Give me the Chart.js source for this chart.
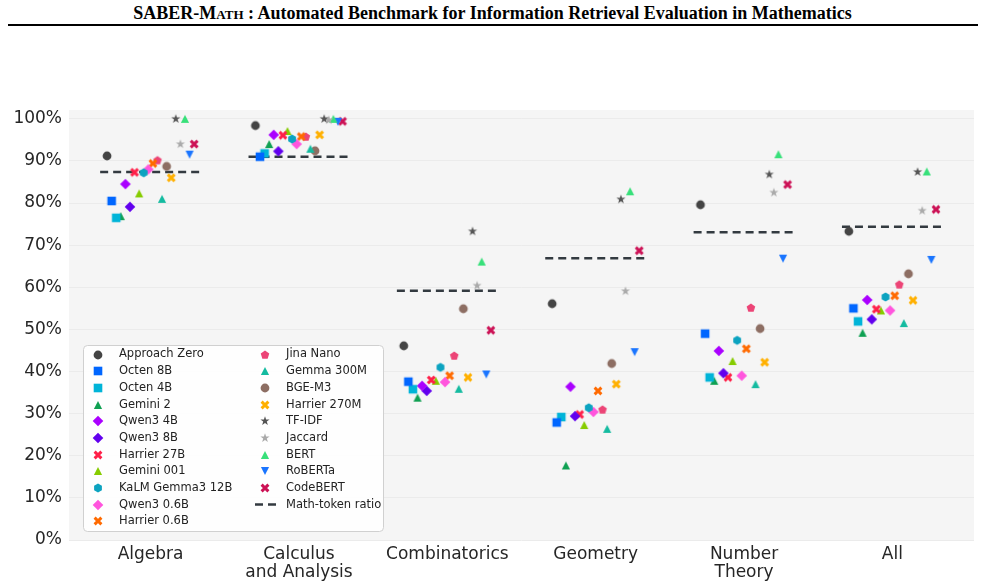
<!DOCTYPE html>
<html>
<head>
<meta charset="utf-8">
<script src="https://cdn.jsdelivr.net/npm/chart.js@4.4.1/dist/chart.umd.min.js"></script>
<style>
  body { margin: 0; background: #fff; width: 985px; height: 586px; position: relative; overflow: hidden; }
  #title { position: absolute; left: 0; top: 3px; width: 985px; text-align: center;
           font: bold 18px "Liberation Serif", "Times New Roman", serif; color: #000; }
  #title .sc { font-variant: small-caps; }
  #rule { position: absolute; left: 8px; top: 24px; width: 970px; height: 2px; background: #000; }
  #c { position: absolute; left: 0; top: 0; }
</style>
</head>
<body>
<div id="title">SABER-<span class="sc">Math</span> : Automated Benchmark for Information Retrieval Evaluation in Mathematics</div>
<div id="rule"></div>
<canvas id="c" width="985" height="586"></canvas>
<script>
// categories and tick labels
const categories = ["Algebra", "Calculus\nand Analysis", "Combinatorics", "Geometry", "Number\nTheory", "All"];
const yTicks = [0, 10, 20, 30, 40, 50, 60, 70, 80, 90, 100];

// scores (%) per category, same order as categories
const approachZero = [91.2, 98.4, 46.1, 56.1, 79.6, 73.3];
const octen8B      = [80.5, 91.0, 37.6, 27.9, 49.0, 55.0];
const octen4B      = [76.5, 91.8, 35.8, 29.2, 38.6, 51.9];
const gemini2      = [76.9, 94.0, 33.8, 17.7, 37.8, 49.2];
const qwen3_4B     = [84.5, 96.2, 36.6, 36.4, 44.9, 57.0];
const qwen3_8B     = [79.1, 92.3, 35.4, 29.4, 39.6, 52.4];
const harrier27B   = [87.3, 96.1, 38.0, 29.8, 38.6, 54.8];
const gemini001    = [82.3, 97.1, 37.8, 27.3, 42.5, 54.5];
const kalmGemma3   = [87.2, 95.2, 41.0, 31.4, 47.4, 57.7];
const qwen3_06B    = [88.0, 94.0, 37.5, 30.4, 39.0, 54.5];
const harrier06B   = [89.4, 95.8, 39.0, 35.4, 45.4, 58.0];
const jinaNano     = [90.1, 95.7, 43.7, 30.9, 55.1, 60.6];
const gemma300M    = [81.0, 92.9, 35.9, 26.4, 37.0, 51.5];
const bgeM3        = [88.7, 92.4, 54.9, 41.9, 50.2, 63.2];
const harrier270M  = [86.0, 96.2, 38.6, 37.0, 42.2, 56.9];
const tfidf        = [100, 100, 73.3, 80.9, 86.8, 87.4];
const jaccard      = [94.0, 99.7, 60.4, 59.1, 82.5, 78.2];
const bert         = [100, 100, 66.1, 82.8, 91.6, 87.5];
const roberta      = [91.5, 99.3, 39.3, 44.6, 66.8, 66.5];
const codebert     = [94.0, 99.4, 49.8, 68.7, 84.4, 78.5];
const mathTokenRatio = [87.4, 91.0, 59.2, 66.9, 73.1, 74.4];

const models = [
  ["Approach Zero", approachZero, "o", "#444444"],
  ["Octen 8B", octen8B, "s", "#0066ff"],
  ["Octen 4B", octen4B, "s", "#00b4d8"],
  ["Gemini 2", gemini2, "^", "#0fa052"],
  ["Qwen3 4B", qwen3_4B, "D", "#aa00ff"],
  ["Qwen3 8B", qwen3_8B, "D", "#6200ee"],
  ["Harrier 27B", harrier27B, "X", "#ff1f48"],
  ["Gemini 001", gemini001, "^", "#86cc00"],
  ["KaLM Gemma3 12B", kalmGemma3, "h", "#0ca3c0"],
  ["Qwen3 0.6B", qwen3_06B, "D", "#ff55dd"],
  ["Harrier 0.6B", harrier06B, "X", "#ff6a00"],
  ["Jina Nano", jinaNano, "p", "#ec4476"],
  ["Gemma 300M", gemma300M, "^", "#14bba0"],
  ["BGE-M3", bgeM3, "o", "#8d6e63"],
  ["Harrier 270M", harrier270M, "X", "#ffb000"],
  ["TF-IDF", tfidf, "*", "#555555"],
  ["Jaccard", jaccard, "*", "#aaaaaa"],
  ["BERT", bert, "^", "#38e07a"],
  ["RoBERTa", roberta, "v", "#1a75ff"],
  ["CodeBERT", codebert, "X", "#cc1155"]
];

function marker(shape, color) {
  const c = document.createElement("canvas");
  c.width = 16; c.height = 16;
  const g = c.getContext("2d");
  g.translate(8, 8);
  g.fillStyle = color;
  g.strokeStyle = color;
  const poly = pts => { g.beginPath(); pts.forEach((p, i) => i ? g.lineTo(p[0], p[1]) : g.moveTo(p[0], p[1])); g.closePath(); g.fill(); };
  const ngon = (n, r, rot) => { const p = []; for (let i = 0; i < n; i++) { const a = rot + i * 2 * Math.PI / n; p.push([r * Math.sin(a), -r * Math.cos(a)]); } poly(p); };
  if (shape === "o") { g.beginPath(); g.arc(0, 0, 4.4, 0, Math.PI * 2); g.fill(); }
  else if (shape === "s") { g.fillRect(-4.3, -4.3, 8.6, 8.6); }
  else if (shape === "D") { poly([[0, -5.3], [5.3, 0], [0, 5.3], [-5.3, 0]]); }
  else if (shape === "^") { poly([[0, -4.1], [4.1, 4.0], [-4.1, 4.0]]); }
  else if (shape === "v") { poly([[0, 4.1], [4.1, -4.0], [-4.1, -4.0]]); }
  else if (shape === "p") { ngon(5, 4.5, 0); }
  else if (shape === "h") { ngon(6, 4.5, 0); }
  else if (shape === "*") {
    const p = [];
    for (let i = 0; i < 10; i++) { const r = i % 2 ? 1.9 : 4.8; const a = i * Math.PI / 5; p.push([r * Math.sin(a), -r * Math.cos(a)]); }
    poly(p);
  } else if (shape === "X") {
    g.lineWidth = 2.9;
    g.beginPath();
    g.moveTo(-3.4, -3.4); g.lineTo(3.4, 3.4);
    g.moveTo(3.4, -3.4); g.lineTo(-3.4, 3.4);
    g.stroke();
  }
  return c;
}

const step = 0.0309;
const datasets = models.map(([name, vals, shape, color], j) => ({
  type: "scatter",
  label: name,
  data: vals.map((v, i) => ({ x: i + (j - 9.5) * step, y: v })),
  pointStyle: marker(shape, color),
  backgroundColor: color,
  borderColor: color,
  order: 1
}));

// dashed reference segments, broken between categories
const ratioPts = [];
mathTokenRatio.forEach((v, i) => {
  ratioPts.push({ x: i - 0.34, y: v }, { x: i + 0.34, y: v }, { x: i + 0.5, y: null });
});
datasets.push({
  type: "line",
  label: "Math-token ratio",
  data: ratioPts,
  borderColor: "#333a40",
  borderWidth: 2.5,
  borderDash: [8, 5],
  pointRadius: 0,
  spanGaps: false,
  fill: false,
  order: 5
});

const plotBg = {
  id: "plotBg",
  beforeDraw(chart) {
    const a = chart.chartArea, ctx = chart.ctx;
    ctx.save();
    ctx.fillStyle = "#f5f5f5";
    ctx.fillRect(a.left, a.top, a.right - a.left, a.bottom - a.top);
    ctx.restore();
  }
};

// two-column legend inside the plot, column by column
const legendBox = {
  id: "legendBox",
  afterDraw(chart) {
    const ctx = chart.ctx;
    const x0 = 83, y0 = 345, w = 300, h = 186;
    ctx.save();
    ctx.fillStyle = "rgba(255,255,255,0.9)";
    ctx.strokeStyle = "#d0d0d0";
    ctx.lineWidth = 1;
    ctx.beginPath();
    ctx.roundRect(x0 + 0.5, y0 + 0.5, w, h, 4);
    ctx.fill();
    ctx.stroke();
    ctx.font = "11.5px 'DejaVu Sans'";
    ctx.fillStyle = "#222";
    ctx.textBaseline = "middle";
    const items = chart.data.datasets;
    items.forEach((ds, k) => {
      const col = k < 11 ? 0 : 1;
      const row = k < 11 ? k : k - 11;
      const mx = col ? 265 : 98;
      const tx = col ? 286 : 119;
      const y = 354.5 + row * 16.68;
      if (ds.type === "line") {
        ctx.strokeStyle = ds.borderColor;
        ctx.lineWidth = 2.5;
        ctx.setLineDash([8, 5]);
        ctx.beginPath();
        ctx.moveTo(255, y); ctx.lineTo(277, y);
        ctx.stroke();
        ctx.setLineDash([]);
      } else {
        const img = ds.pointStyle;
        ctx.drawImage(img, Math.round(mx - img.width / 2), Math.round(y - img.height / 2));
      }
      ctx.fillText(ds.label, tx, y);
    });
    ctx.restore();
  }
};

new Chart(document.getElementById("c"), {
  data: { datasets },
  options: {
    responsive: false,
    animation: false,
    devicePixelRatio: 1,
    layout: { padding: { top: 110, right: 11, left: 0, bottom: 0 } },
    plugins: { legend: { display: false }, tooltip: { enabled: false } },
    scales: {
      x: {
        type: "linear",
        min: -0.55,
        max: 5.55,
        afterBuildTicks: s => { s.ticks = categories.map((c, i) => ({ value: i })); },
        afterFit: s => { s.height = 46; },
        grid: { display: false, drawTicks: false },
        border: { display: false },
        ticks: {
          callback: v => categories[Math.round(v)].split("\n"),
          maxRotation: 0,
          autoSkip: false,
          padding: 6,
          color: "#262626",
          font: { family: "DejaVu Sans", size: 17, lineHeight: 1.05 }
        }
      },
      y: {
        min: 0,
        max: 102.1,
        afterBuildTicks: s => { s.ticks = yTicks.map(v => ({ value: v })); },
        afterFit: s => { s.width = 69; },
        grid: { color: "#ebebeb", lineWidth: 1, drawTicks: false },
        border: { display: false },
        ticks: {
          callback: v => v + "%",
          padding: 7,
          color: "#262626",
          font: { family: "DejaVu Sans", size: 17 }
        }
      }
    }
  },
  plugins: [plotBg, legendBox]
});
</script>
</body>
</html>
